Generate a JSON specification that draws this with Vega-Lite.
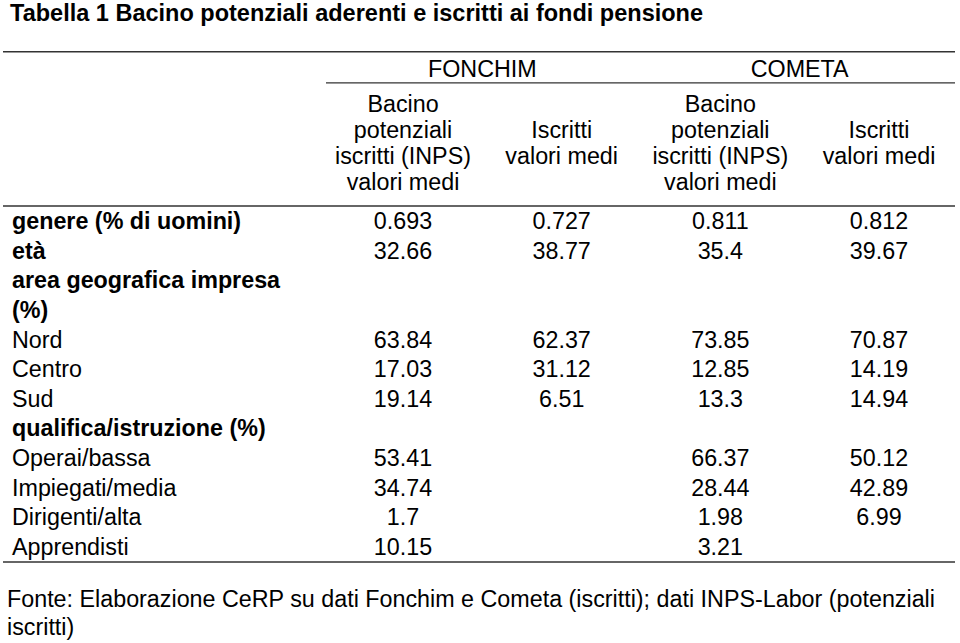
{
  "$schema": "https://vega.github.io/schema/vega-lite/v6.json",
  "width": 960,
  "height": 643,
  "padding": 0,
  "autosize": {"type": "fit", "contains": "padding"},
  "background": "white",
  "config": {
    "view": {"stroke": null},
    "text": {"font": "Liberation Sans", "fontSize": 23.3, "color": "black", "baseline": "middle"},
    "rule": {"color": "#333333", "strokeWidth": 1.4}
  },
  "datasets": {
    "labels": [
      {"row": 1, "label": "genere (% di uomini)", "level": "category"},
      {"row": 2, "label": "età", "level": "category"},
      {"row": 3, "label": "area geografica impresa", "level": "category"},
      {"row": 4, "label": "(%)", "level": "category"},
      {"row": 5, "label": "Nord", "level": "item"},
      {"row": 6, "label": "Centro", "level": "item"},
      {"row": 7, "label": "Sud", "level": "item"},
      {"row": 8, "label": "qualifica/istruzione (%)", "level": "category"},
      {"row": 9, "label": "Operai/bassa", "level": "item"},
      {"row": 10, "label": "Impiegati/media", "level": "item"},
      {"row": 11, "label": "Dirigenti/alta", "level": "item"},
      {"row": 12, "label": "Apprendisti", "level": "item"}
    ],
    "cells": [
      {"row": 1, "col": 1, "value": 0.693}, {"row": 1, "col": 2, "value": 0.727}, {"row": 1, "col": 3, "value": 0.811}, {"row": 1, "col": 4, "value": 0.812},
      {"row": 2, "col": 1, "value": 32.66}, {"row": 2, "col": 2, "value": 38.77}, {"row": 2, "col": 3, "value": 35.4}, {"row": 2, "col": 4, "value": 39.67},
      {"row": 5, "col": 1, "value": 63.84}, {"row": 5, "col": 2, "value": 62.37}, {"row": 5, "col": 3, "value": 73.85}, {"row": 5, "col": 4, "value": 70.87},
      {"row": 6, "col": 1, "value": 17.03}, {"row": 6, "col": 2, "value": 31.12}, {"row": 6, "col": 3, "value": 12.85}, {"row": 6, "col": 4, "value": 14.19},
      {"row": 7, "col": 1, "value": 19.14}, {"row": 7, "col": 2, "value": 6.51}, {"row": 7, "col": 3, "value": 13.3}, {"row": 7, "col": 4, "value": 14.94},
      {"row": 9, "col": 1, "value": 53.41}, {"row": 9, "col": 3, "value": 66.37}, {"row": 9, "col": 4, "value": 50.12},
      {"row": 10, "col": 1, "value": 34.74}, {"row": 10, "col": 3, "value": 28.44}, {"row": 10, "col": 4, "value": 42.89},
      {"row": 11, "col": 1, "value": 1.7}, {"row": 11, "col": 3, "value": 1.98}, {"row": 11, "col": 4, "value": 6.99},
      {"row": 12, "col": 1, "value": 10.15}, {"row": 12, "col": 3, "value": 3.21}
    ],
    "headers": [
      {"col": 1, "text": "Bacino\npotenziali\niscritti (INPS)\nvalori medi", "kind": "bacino"},
      {"col": 2, "text": "Iscritti\nvalori medi", "kind": "iscritti"},
      {"col": 3, "text": "Bacino\npotenziali\niscritti (INPS)\nvalori medi", "kind": "bacino"},
      {"col": 4, "text": "Iscritti\nvalori medi", "kind": "iscritti"}
    ],
    "groups": [
      {"group": "FONCHIM", "col": 1.5},
      {"group": "COMETA", "col": 3.5}
    ]
  },
  "layer": [
    {
      "data": {"values": [{"text": "Tabella 1 Bacino potenziali aderenti e iscritti ai fondi pensione"}]},
      "mark": {"type": "text", "align": "left", "fontWeight": "bold", "fontSize": 23.5},
      "encoding": {
        "x": {"datum": -0.005, "type": "quantitative", "scale": {"domain": [0, 1, 4], "range": [12, 403, 879], "nice": false, "zero": false}, "axis": null},
        "y": {"datum": -6.03, "type": "quantitative", "scale": {"domain": [1, 12], "range": [222, 548], "nice": false, "zero": false}, "axis": null},
        "text": {"field": "text", "type": "nominal"}
      }
    },
    {
      "data": {"values": [{}]},
      "mark": {"type": "rule"},
      "encoding": {
        "x": {"datum": -0.023, "type": "quantitative"},
        "x2": {"datum": 4.479},
        "y": {"datum": -4.745, "type": "quantitative"}
      }
    },
    {
      "data": {"values": [{}]},
      "mark": {"type": "rule"},
      "encoding": {
        "x": {"datum": 0.803, "type": "quantitative"},
        "x2": {"datum": 4.479},
        "y": {"datum": -3.695, "type": "quantitative"}
      }
    },
    {
      "data": {"values": [{}]},
      "mark": {"type": "rule"},
      "encoding": {
        "x": {"datum": -0.023, "type": "quantitative"},
        "x2": {"datum": 4.479},
        "y": {"datum": 0.46, "type": "quantitative"}
      }
    },
    {
      "data": {"values": [{}]},
      "mark": {"type": "rule"},
      "encoding": {
        "x": {"datum": -0.023, "type": "quantitative"},
        "x2": {"datum": 4.479},
        "y": {"datum": 12.47, "type": "quantitative"}
      }
    },
    {
      "data": {"name": "groups"},
      "mark": {"type": "text", "align": "center"},
      "encoding": {
        "x": {"field": "col", "type": "quantitative"},
        "y": {"datum": -4.13, "type": "quantitative"},
        "text": {"field": "group", "type": "nominal"}
      }
    },
    {
      "data": {"name": "headers"},
      "transform": [{"filter": "datum.kind === 'bacino'"}],
      "mark": {"type": "text", "align": "center", "lineBreak": "\n", "lineHeight": 26},
      "encoding": {
        "x": {"field": "col", "type": "quantitative"},
        "y": {"datum": -2.948, "type": "quantitative"},
        "text": {"field": "text", "type": "nominal"}
      }
    },
    {
      "data": {"name": "headers"},
      "transform": [{"filter": "datum.kind === 'iscritti'"}],
      "mark": {"type": "text", "align": "center", "lineBreak": "\n", "lineHeight": 26},
      "encoding": {
        "x": {"field": "col", "type": "quantitative"},
        "y": {"datum": -2.071, "type": "quantitative"},
        "text": {"field": "text", "type": "nominal"}
      }
    },
    {
      "data": {"name": "labels"},
      "transform": [{"filter": "datum.level === 'category'"}],
      "mark": {"type": "text", "align": "left", "fontWeight": "bold"},
      "encoding": {
        "x": {"datum": 0, "type": "quantitative"},
        "y": {"field": "row", "type": "quantitative"},
        "text": {"field": "label", "type": "nominal"}
      }
    },
    {
      "data": {"name": "labels"},
      "transform": [{"filter": "datum.level === 'item'"}],
      "mark": {"type": "text", "align": "left"},
      "encoding": {
        "x": {"datum": 0, "type": "quantitative"},
        "y": {"field": "row", "type": "quantitative"},
        "text": {"field": "label", "type": "nominal"}
      }
    },
    {
      "data": {"name": "cells"},
      "mark": {"type": "text", "align": "center"},
      "encoding": {
        "x": {"field": "col", "type": "quantitative"},
        "y": {"field": "row", "type": "quantitative"},
        "text": {"field": "value", "type": "nominal"}
      }
    },
    {
      "data": {"values": [{"text": "Fonte: Elaborazione CeRP su dati Fonchim e Cometa (iscritti); dati INPS-Labor (potenziali\niscritti)"}]},
      "mark": {"type": "text", "align": "left", "lineBreak": "\n", "lineHeight": 28},
      "encoding": {
        "x": {"datum": -0.0128, "type": "quantitative"},
        "y": {"datum": 13.755, "type": "quantitative"},
        "text": {"field": "text", "type": "nominal"}
      }
    }
  ]
}
